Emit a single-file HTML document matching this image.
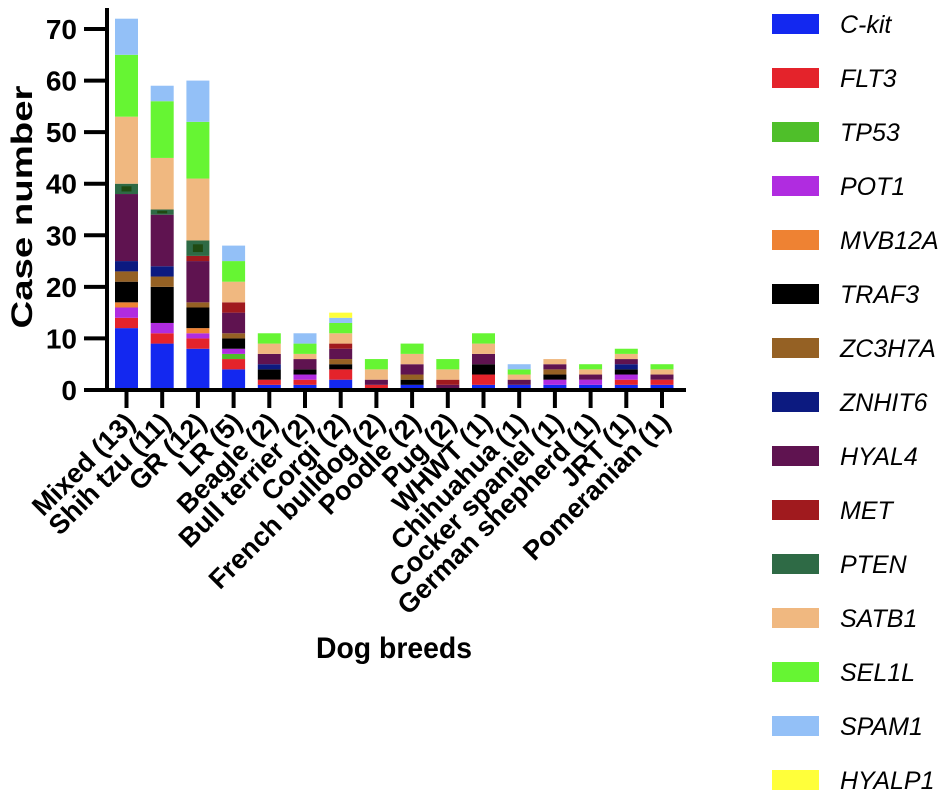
<!DOCTYPE html>
<html><head><meta charset="utf-8"><style>
body{margin:0;background:#fff}
svg{display:block;font-family:"Liberation Sans",Arial,sans-serif}
</style></head><body>
<svg id="chart" width="944" height="794" viewBox="0 0 944 794"></svg>
<script>
const categories = ["Mixed (13)","Shih tzu (11)","GR (12)","LR (5)","Beagle (2)","Bull terrier (2)","Corgi (2)","French bulldog (2)","Poodle (2)","Pug (2)","WHWT (1)","Chihuahua (1)","Cocker spaniel (1)","German shepherd (1)","JRT (1)","Pomeranian (1)"];
const genes = ["C-kit","FLT3","TP53","POT1","MVB12A","TRAF3","ZC3H7A","ZNHIT6","HYAL4","MET","PTEN","SATB1","SEL1L","SPAM1","HYALP1"];
const colors = ["#1328f0","#e4232b","#4fbf2a","#b02ce0","#ee8233","#000000","#956124","#0c1a80","#5f1350","#a01a1e","#2e6a45","#f0b880","#66f533","#93c0f7","#ffff3a"];
const ckit   = [12,9,8,4,1,1,2,0,1,0,1,1,1,1,1,1];
const flt3   = [2,2,2,2,1,1,2,1,0,0,2,0,0,0,1,1];
const tp53   = [0,0,0,1,0,0,0,0,0,0,0,0,0,0,0,0];
const pot1   = [2,2,1,1,0,1,0,0,0,0,0,0,1,1,1,0];
const mvb12a = [1,0,1,0,0,0,0,0,0,0,0,0,0,0,0,0];
const traf3  = [4,7,4,2,2,1,1,0,1,0,2,0,1,0,1,0];
const zc3h7a = [2,2,1,1,0,0,1,0,1,0,0,0,1,0,0,0];
const znhit6 = [2,2,0,0,1,0,0,0,0,0,0,0,0,0,1,0];
const hyal4  = [13,10,8,4,2,2,2,1,2,1,2,1,1,1,1,1];
const met    = [0,0,1,2,0,0,1,0,0,1,0,0,0,0,0,0];
const pten   = [2,1,3,0,0,0,0,0,0,0,0,0,0,0,0,0];
const satb1  = [13,10,12,4,2,1,2,2,2,2,2,1,1,1,1,1];
const sel1l  = [12,11,11,4,2,2,2,2,2,2,2,1,0,1,1,1];
const spam1  = [7,3,8,3,0,2,1,0,0,0,0,1,0,0,0,0];
const hyalp1 = [0,0,0,0,0,0,1,0,0,0,0,0,0,0,0,0];
const series = [ckit,flt3,tp53,pot1,mvb12a,traf3,zc3h7a,znhit6,hyal4,met,pten,satb1,sel1l,spam1,hyalp1];
const yTicks = [0,10,20,30,40,50,60,70];

const NS="http://www.w3.org/2000/svg";
const svg=document.getElementById('chart');
function mk(tag,attrs,parent){const e=document.createElementNS(NS,tag);for(const k in attrs)e.setAttribute(k,attrs[k]);(parent||svg).appendChild(e);return e;}
const y0=390, unit=5.157;
const yScale=v=>y0-v*unit;
const x0=126.5, step=35.7;
const xScale=i=>x0+i*step;
const barW=23;

categories.forEach((c,i)=>{
  const g=mk('g',{});
  
  
  let acc=0;
  series.forEach((s,k)=>{
    const v=s[i]; if(!v) return;
    const r=mk('rect',{x:xScale(i)-barW/2,y:yScale(acc+v),width:barW,height:v*unit,fill:colors[k]},g);
    
    
    if(genes[k]==='PTEN'){
      const d=mk('rect',{x:xScale(i)-5,y:yScale(acc+v)+v*unit*0.25,width:10,height:v*unit*0.5,fill:'#1f4a12'},g);
      
      
    }
    acc+=v;
  });
});

const ya=mk('line',{x1:107,y1:8,x2:107,y2:392,stroke:'#000','stroke-width':4});


const xa=mk('line',{x1:105,y1:390,x2:686,y2:390,stroke:'#000','stroke-width':4});


yTicks.forEach(t=>{
  const l=mk('line',{x1:84,y1:yScale(t),x2:107,y2:yScale(t),stroke:'#000','stroke-width':4});
  
  
  const tx=mk('text',{x:77,y:yScale(t)+10,'text-anchor':'end','font-size':28,'font-weight':'bold'});
  tx.textContent=t;
  
  
});
categories.forEach((c,i)=>{
  const x=xScale(i);
  const l=mk('line',{x1:x,y1:390,x2:x,y2:408,stroke:'#000','stroke-width':4});
  
  
  const tx=mk('text',{x:x+10,y:424,'text-anchor':'end','font-size':27,'font-weight':'bold',transform:`rotate(-45 ${x+10} 424)`});
  tx.textContent=c;
  
  
});
const yt=mk('text',{x:32,y:207,'text-anchor':'middle','font-size':30,'font-weight':'bold',textLength:243,lengthAdjust:'spacingAndGlyphs',transform:'rotate(-90 32 207)'});
yt.textContent='Case number';


const xt=mk('text',{x:394,y:658,'text-anchor':'middle','font-size':30,'font-weight':'bold',textLength:156,lengthAdjust:'spacingAndGlyphs'});
xt.textContent='Dog breeds';



genes.forEach((gname,k)=>{
  const cy=24+k*54;
  const g=mk('g',{});
  
  
  mk('rect',{x:772,y:cy-10,width:47,height:20,fill:colors[k]},g);
  const t=mk('text',{x:840,y:cy+9,'font-size':25,'font-style':'italic'},g);
  t.textContent=gname;
});
</script>
</body></html>
